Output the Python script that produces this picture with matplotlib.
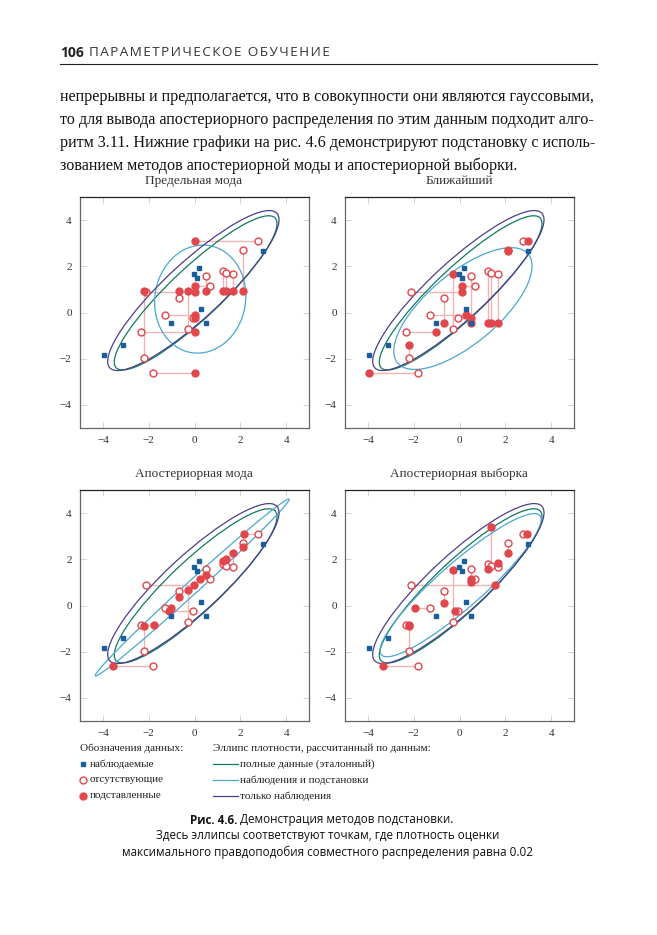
import numpy as np
import matplotlib
matplotlib.use("Agg")
import matplotlib.pyplot as plt
from matplotlib.patches import Ellipse

# fully observed points
obs_x = [-3.95, -3.12, 0.19, -0.03, 0.09, 0.30, -1.03, 0.49, 2.97]
obs_y = [-1.85, -1.39, 1.94, 1.65, 1.51, 0.17, -0.45, -0.45, 2.68]

# points with one missing coordinate (true values), dim: 0 = x missing, 1 = y missing
miss_x = [2.76, 0.69, -2.10, -1.29, -0.06, -2.34, -1.81,
          2.10, 1.24, 1.38, 1.70, 0.52, -0.66, -0.29, -2.21]
miss_y = [3.09, 1.16, 0.88, -0.09, -0.22, -0.84, -2.62,
          2.71, 1.80, 1.72, 1.67, 1.58, 0.61, -0.71, -1.99]
miss_dim = [0, 0, 0, 0, 0, 0, 0, 1, 1, 1, 1, 1, 1, 1, 1]

# imputed value of the missing coordinate for each method
imp_marginal = [0.0, 0.0, 0.0, 0.0, 0.0, 0.0, 0.0,
                0.93, 0.93, 0.93, 0.93, 0.93, 0.93, 0.93, 0.93]
imp_nearest = [2.97, 0.09, 0.09, 0.30, 0.49, -1.03, -3.95,
               2.68, -0.45, -0.45, -0.45, -0.45, -0.45, 1.65, -1.39]
imp_post_mode = [2.15, 0.23, -0.04, -1.03, -1.12, -1.75, -3.54,
                 2.55, 1.91, 2.03, 2.29, 1.33, 0.38, 0.68, -0.90]
imp_post_sample = [2.94, 0.49, 1.57, -1.94, -0.18, -2.20, -3.36,
                   2.27, 1.59, 3.41, 1.83, 1.01, 0.12, 1.52, -0.87]

titles = ["Предельная мода", "Ближайший", "Апостериорная мода", "Апостериорная выборка"]
imputations = [imp_marginal, imp_nearest, imp_post_mode, imp_post_sample]
ticks = [-4, -2, 0, 2, 4]
tick_labels = ["\u22124", "\u22122", "0", "2", "4"]

# density ellipses (p = 0.02): center x, center y, semi-major, semi-minor, angle
ell_full = (0.05, 0.85, 4.75, 1.10, 43.0)
ell_only_obs = (-0.05, 0.95, 4.95, 1.22, 42.5)
ell_imputed = [
    (0.25, 0.58, 2.35, 1.98, 80.0),
    (0.15, 0.17, 3.70, 1.54, 39.5),
    (-0.10, 0.78, 5.70, 0.28, 42.1),
    (0.05, 0.88, 4.59, 0.97, 41.0),
]

c_obs = "#1a5e9c"
c_red = "#e0474c"
c_link = "#f2b3b3"
c_full = "#0e7a5e"
c_imp = "#4aa8cf"
c_only = "#4b3f8c"

serif = "Liberation Serif"
sans = "Open Sans"

W, H = 657, 935
fig = plt.figure(figsize=(W / 100, H / 100), dpi=100)


def fx(px):
    return px / W


def fy(py):
    return 1 - py / H


def ellipse(ax, params, color):
    cx, cy, a, b, ang = params
    ax.add_patch(Ellipse((cx, cy), 2 * a, 2 * b, angle=ang, fill=False,
                         edgecolor=color, lw=0.9, zorder=2))


boxes = [(80, 197), (345, 197), (80, 490), (345, 490)]
for k, (title, imp) in enumerate(zip(titles, imputations)):
    left, top = boxes[k]
    ax = fig.add_axes([fx(left), fy(top + 231), fx(229), 231 / H])
    fill_x, fill_y = [], []
    for mx, my, dm, v in zip(miss_x, miss_y, miss_dim, imp):
        ix, iy = (v, my) if dm == 0 else (mx, v)
        fill_x.append(ix)
        fill_y.append(iy)
        ax.plot([mx, ix], [my, iy], color=c_link, lw=1.0, zorder=1)

    ellipse(ax, ell_full, c_full)
    ellipse(ax, ell_imputed[k], c_imp)
    ellipse(ax, ell_only_obs, c_only)

    ax.plot(miss_x, miss_y, "o", ms=5, mfc="white", mec=c_red, mew=1.0, zorder=3)
    ax.plot(fill_x, fill_y, "o", ms=5, mfc=c_red, mec=c_red, zorder=4)
    ax.plot(obs_x, obs_y, "s", ms=2.6, color=c_obs, zorder=5)

    ax.set_xlim(-5, 5)
    ax.set_ylim(-5, 5)
    ax.set_xticks(ticks)
    ax.set_yticks(ticks)
    ax.set_xticklabels(tick_labels)
    ax.set_yticklabels(tick_labels)
    ax.tick_params(direction="in", top=True, right=True, length=4, width=0.6,
                   color="#cccccc", labelsize=8, labelcolor="#333333", pad=6)
    for lab in ax.get_xticklabels() + ax.get_yticklabels():
        lab.set_family(serif)
    for s in ax.spines.values():
        s.set_color("#666666")
        s.set_linewidth(0.9)
    ax.spines["top"].set_color("#222222")
    fig.text(fx(left + 114), fy(top - 16), title, ha="center", va="center",
             family=serif, fontsize=9.5, color="#333333")

# page header
fig.text(fx(60), fy(53), "106", family=sans, fontsize=10, weight="bold",
         color="#222222", va="center")
fig.text(fx(89), fy(53), "\u200a".join("ПАРАМЕТРИЧЕСКОЕ ОБУЧЕНИЕ"),
         family=[sans, "DejaVu Sans"], fontsize=9.7, color="#333333", va="center")
fig.add_artist(plt.Line2D([fx(60), fx(597)], [fy(64), fy(64)], color="#222222", lw=0.8))

para = [
    "непрерывны и предполагается, что в совокупности они являются гауссовыми,",
    "то для вывода апостериорного распределения по этим данным подходит алго-",
    "ритм 3.11. Нижние графики на рис. 4.6 демонстрируют подстановку с исполь-",
    "зованием методов апостериорной моды и апостериорной выборки.",
]
for i, line in enumerate(para):
    fig.text(fx(60), fy(97 + i * 23), line, family=serif, fontsize=11.6,
             color="#111111", va="center")

# legend
fig.text(fx(80), fy(748), "Обозначения данных:", family=serif, fontsize=8, va="center", color="#222222")
legend_items = [("s", "наблюдаемые"), ("o_open", "отсутствующие"), ("o", "подставленные")]
for i, (mk, lab) in enumerate(legend_items):
    y = fy(764 + i * 16)
    if mk == "s":
        fig.add_artist(plt.Line2D([fx(83)], [y], marker="s", ms=2.6, color=c_obs, lw=0))
    elif mk == "o_open":
        fig.add_artist(plt.Line2D([fx(83)], [y], marker="o", ms=5, mfc="white", mec=c_red, mew=1.0, lw=0))
    else:
        fig.add_artist(plt.Line2D([fx(83)], [y], marker="o", ms=5, color=c_red, lw=0))
    fig.text(fx(90), y, lab, family=serif, fontsize=8, va="center", color="#222222")

fig.text(fx(213), fy(748), "Эллипс плотности, рассчитанный по данным:", family=serif,
         fontsize=8, va="center", color="#222222")
ell_items = [(c_full, "полные данные (эталонный)"), (c_imp, "наблюдения и подстановки"),
             (c_only, "только наблюдения")]
for i, (c, lab) in enumerate(ell_items):
    y = fy(764 + i * 16)
    fig.add_artist(plt.Line2D([fx(213), fx(238)], [y, y], color=c, lw=0.9))
    fig.text(fx(240), y, lab, family=serif, fontsize=8, va="center", color="#222222")

# caption, first line centred as a whole (bold label + normal text)
cap_size = 8.4
renderer = fig.canvas.get_renderer()
t1 = fig.text(0, fy(820), "Рис. 4.6.", family=sans, fontsize=cap_size, weight="bold",
              ha="left", va="center", color="#111111")
t2 = fig.text(0, fy(820), "Демонстрация методов подстановки.", family=sans, fontsize=cap_size,
              ha="left", va="center", color="#111111")
w1 = t1.get_window_extent(renderer).width
w2 = t2.get_window_extent(renderer).width
gap = 3
x0 = 322 - (w1 + gap + w2) / 2
t1.set_x(fx(x0))
t2.set_x(fx(x0 + w1 + gap))
fig.text(fx(328), fy(836), "Здесь эллипсы соответствуют точкам, где плотность оценки",
         family=sans, fontsize=cap_size, ha="center", va="center", color="#111111")
fig.text(fx(328), fy(852), "максимального правдоподобия совместного распределения равна 0.02",
         family=sans, fontsize=cap_size, ha="center", va="center", color="#111111")

fig.savefig("out.png", dpi=100)
